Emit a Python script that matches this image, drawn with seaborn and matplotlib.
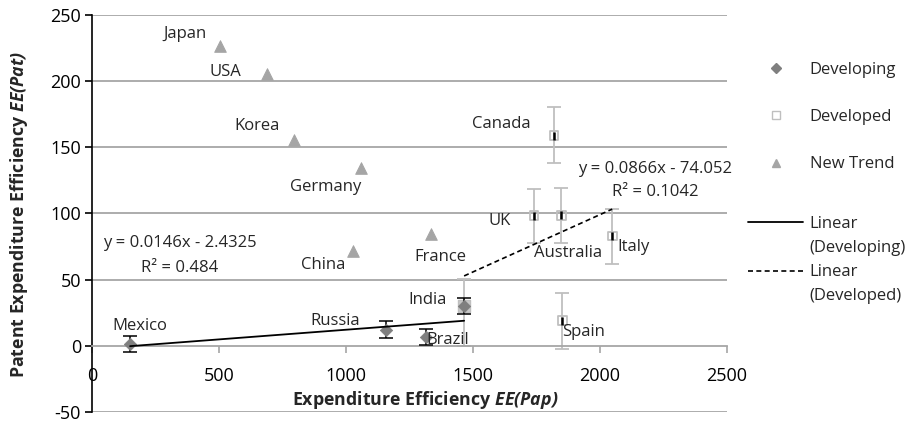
import numpy as np
import pandas as pd
import matplotlib
matplotlib.use("Agg")
import matplotlib.pyplot as plt
import seaborn as sns
from matplotlib.lines import Line2D

# ---------------- data ----------------
developing_names = ["Mexico", "Russia", "Brazil", "India"]
developing_x = [150, 1158, 1314, 1465]
developing_y = [1.3, 12.1, 6.5, 30.2]
developing_err = [6.2, 6.3, 6.2, 6.0]

developed_names = ["India", "UK", "Canada", "Australia", "Spain", "Italy"]
developed_x = [1465, 1740, 1819, 1848, 1851, 2048]
developed_y = [30.2, 98.2, 158.8, 98.7, 18.9, 83.0]
developed_err_low = [30.2, 20.8, 20.8, 21.0, 21.2, 21.0]
developed_err_high = [20.4, 20.2, 21.7, 20.8, 20.9, 20.7]
developed_inner_err = [0.0, 3.0, 3.0, 3.0, 3.0, 3.0]

newtrend_names = ["Japan", "USA", "Korea", "Germany", "China", "France"]
newtrend_x = [504, 688, 795, 1059, 1026, 1334]
newtrend_y = [226.8, 205.4, 155.6, 134.2, 72.0, 84.6]

# trend line coefficients (slope, intercept) as printed on the chart
developing_fit = [0.0146, -2.4325]
developing_r2 = "0.484"
developed_fit = [0.0866, -74.052]
developed_r2 = "0.1042"

# country label anchors (data coordinates)
label_names = ["Japan", "USA", "Korea", "Germany", "China", "France",
               "Mexico", "Russia", "Brazil", "India",
               "Canada", "UK", "Australia", "Italy", "Spain"]
label_x = [366, 527, 650, 921, 909, 1370,
           189, 957, 1402, 1323,
           1613, 1606, 1875, 2131, 1935]
label_y = [235.5, 207, 166, 120, 61, 67,
           15.3, 19, 4.5, 34.7,
           167.7, 94.6, 70.5, 74.5, 10.8]

x_ticks = [0, 500, 1000, 1500, 2000, 2500]
y_ticks = [-50, 0, 50, 100, 150, 200, 250]

# ---------------- style ----------------
sns.set_theme(style="white")
FONT = "Open Sans"
plt.rcParams["font.family"] = [FONT, "DejaVu Sans"]
plt.rcParams["axes.unicode_minus"] = False
plt.rcParams["mathtext.fontset"] = "custom"
plt.rcParams["mathtext.bfit"] = f"{FONT}:italic:bold"
plt.rcParams["mathtext.it"] = f"{FONT}:italic"
plt.rcParams["mathtext.rm"] = FONT
plt.rcParams["mathtext.bf"] = f"{FONT}:bold"

C_DEVING = "#7f7f7f"
C_DEVED = "#bfbfbf"
C_NEW = "#a5a5a5"
C_GRID = "#a6a6a6"
FS = 12
TFS = 13

fig = plt.figure(figsize=(9.21, 4.24), dpi=100)
ax = fig.add_axes([92 / 921, 12 / 424, 635 / 921, 397 / 424])

dev_df = pd.DataFrame({"x": developing_x, "y": developing_y})
ded_df = pd.DataFrame({"x": developed_x, "y": developed_y})
new_df = pd.DataFrame({"x": newtrend_x, "y": newtrend_y})

# grid
for yv in y_ticks:
    if yv != 0:
        ax.axhline(yv, color=C_GRID, lw=1.3, zorder=0)

# developed error bars (gray) and inner black marks
ax.errorbar(developed_x, developed_y, yerr=[developed_err_low, developed_err_high],
            fmt="none", ecolor=C_DEVED, elinewidth=1.3, capsize=5, capthick=1.3, zorder=2)
ax.errorbar(developed_x, developed_y, yerr=developed_inner_err,
            fmt="none", ecolor="black", elinewidth=1.8, capsize=0, zorder=4)

sns.scatterplot(data=ded_df, x="x", y="y", ax=ax, marker="s", s=40,
                facecolor="none", edgecolor=C_DEVED, linewidth=1.3, zorder=3, legend=False)
# India is in both groups: light gray fill behind diamond
ax.scatter([developed_x[0]], [developed_y[0]], marker="s", s=65,
           facecolor="#c8c8c8", edgecolor=C_DEVED, zorder=3)

# developing error bars (black)
ax.errorbar(developing_x, developing_y, yerr=developing_err,
            fmt="none", ecolor="black", elinewidth=1.1, capsize=5, capthick=1.1, zorder=4)
sns.scatterplot(data=dev_df, x="x", y="y", ax=ax, marker="D", s=40,
                color=C_DEVING, edgecolor=C_DEVING, zorder=5, legend=False)

sns.scatterplot(data=new_df, x="x", y="y", ax=ax, marker="^", s=70,
                color=C_NEW, edgecolor=C_NEW, zorder=5, legend=False)

# trend lines
xs = np.array([min(developing_x), max(developing_x)])
ax.plot(xs, developing_fit[0] * xs + developing_fit[1], color="black", lw=1.3, zorder=6)
xd = np.array([min(developed_x), max(developed_x)])
ax.plot(xd, developed_fit[0] * xd + developed_fit[1], color="black", lw=1.2,
        ls=(0, (3, 2)), zorder=6)

# equations
ax.text(346, 77.8, f"y = {developing_fit[0]}x - {abs(developing_fit[1])}",
        ha="center", va="center", fontsize=FS, zorder=7)
ax.text(346, 59, f"R² = {developing_r2}", ha="center", va="center", fontsize=FS, zorder=7)
ax.text(2217, 133.4, f"y = {developed_fit[0]}x - {abs(developed_fit[1])}",
        ha="center", va="center", fontsize=FS, zorder=7)
ax.text(2217, 116.3, f"R² = {developed_r2}", ha="center", va="center", fontsize=FS, zorder=7)

# country labels
for n, lx, ly in zip(label_names, label_x, label_y):
    ax.text(lx, ly, n, ha="center", va="center", fontsize=FS, zorder=7)

# axes
ax.set_xlim(x_ticks[0], x_ticks[-1])
ax.set_ylim(y_ticks[0], y_ticks[-1])
ax.set_xticks(x_ticks)
ax.set_yticks(y_ticks)
ax.tick_params(axis="both", labelsize=TFS, length=5, width=1.2, direction="out")
ax.tick_params(axis="x", colors=C_GRID, labelcolor="black", pad=10)
ax.tick_params(axis="y", colors="black", pad=3)
ax.tick_params(bottom=True, left=True)
ax.spines["top"].set_visible(False)
ax.spines["right"].set_visible(False)
ax.spines["bottom"].set_position(("data", 0))
ax.spines["bottom"].set_color(C_GRID)
ax.spines["bottom"].set_linewidth(1.3)
ax.spines["left"].set_color("black")
ax.spines["left"].set_linewidth(1.2)
ax.set_xlabel("")
ax.set_ylabel("")

fig.text(425 / 921, 1 - 400 / 424, r"Expenditure Efficiency $\mathbfit{EE(Pap)}$",
         ha="center", va="center", fontsize=12.8, fontweight="bold")
fig.text(19 / 921, 1 - 214 / 424, r"Patent Expenditure Efficiency $\mathbfit{EE(Pat)}$",
         ha="center", va="center", fontsize=12.8, fontweight="bold", rotation=90)

# legends
h1 = [Line2D([], [], ls="none", marker="D", color=C_DEVING, ms=5),
      Line2D([], [], ls="none", marker="s", mfc="none", mec=C_DEVED, ms=6),
      Line2D([], [], ls="none", marker="^", color=C_NEW, ms=6)]
leg1 = fig.legend(h1, ["Developing", "Developed", "New Trend"], loc="upper left",
                  bbox_to_anchor=(733 / 921, 1 - 47 / 424), frameon=False, fontsize=12,
                  handlelength=3.3, handletextpad=0.4, labelspacing=1.87)
blank = Line2D([], [], ls="none")
h2 = [Line2D([], [], color="black", lw=1.3), blank,
      Line2D([], [], color="black", lw=1.2, ls=(0, (3, 2))), blank]
leg2 = fig.legend(h2, ["Linear", "(Developing)", "Linear", "(Developed)"], loc="upper left",
                  bbox_to_anchor=(733 / 921, 1 - 201 / 424), frameon=False, fontsize=12,
                  handlelength=3.3, handletextpad=0.4, labelspacing=0.49)

fig.savefig("out.png", dpi=100)
